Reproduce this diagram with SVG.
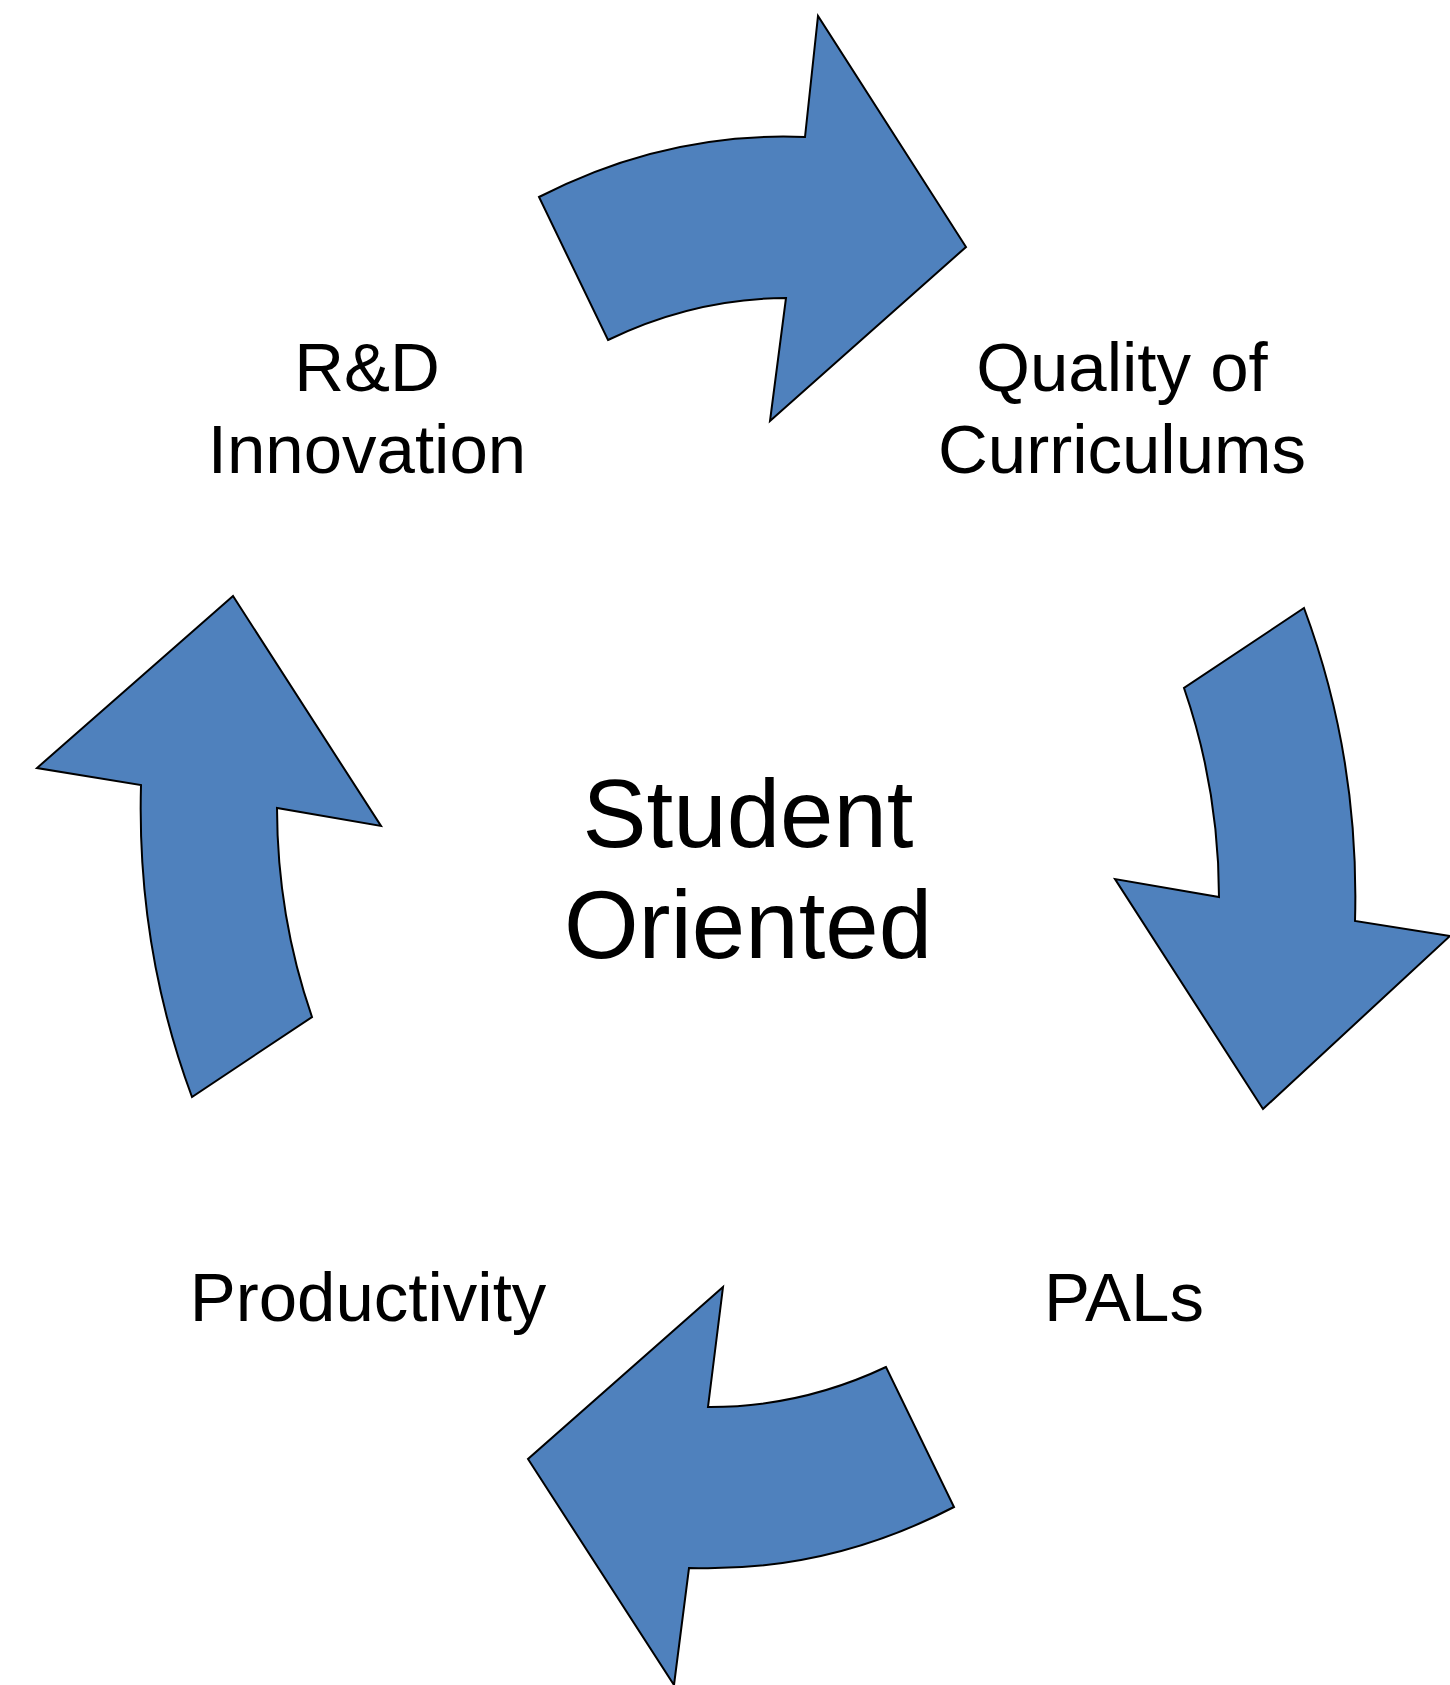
<svg xmlns="http://www.w3.org/2000/svg" width="1450" height="1685" viewBox="0 0 1450 1685">
<style>
.arrow{fill:#4F81BD;stroke:#000;stroke-width:2;stroke-linejoin:miter}
.lbl{font-family:"Liberation Sans",Arial,sans-serif;font-size:69px;fill:#000;text-anchor:middle}
.ctr{font-family:"Liberation Sans",Arial,sans-serif;font-size:96px;fill:#000;text-anchor:middle}
</style>
<rect width="1450" height="1685" fill="#fff"/>
<g id="connectors">
<path id="arrow-top" class="arrow" d="M539,197 A611,720 0 0 1 805,137 L818,16 L966,247 L770,421 L786,298 A473,557 0 0 0 608,340 Z"/>
<path id="arrow-right" class="arrow" d="M1304,608 A611,720 0 0 1 1355,921 L1450,936 L1263,1109 L1115,879 L1219,897 A473,557 0 0 0 1184,688 Z"/>
<path id="arrow-bottom" class="arrow" d="M954,1507 A611,720 0 0 1 689,1568 L674,1685 L528,1459 L723,1287 L708,1407 A473,557 0 0 0 886,1367 Z"/>
<path id="arrow-left" class="arrow" d="M192,1097 A611,720 0 0 1 141,785 L37,768 L233,596 L381,826 L277,808 A473,557 0 0 0 312,1017 Z"/>
</g>
<g id="node-rd"><text class="lbl" x="367" y="391">R&amp;D</text><text class="lbl" x="367" y="473">Innovation</text></g>
<g id="node-quality"><text class="lbl" x="1122" y="391">Quality of</text><text class="lbl" x="1122" y="473">Curriculums</text></g>
<g id="node-pals"><text class="lbl" x="1124" y="1321">PALs</text></g>
<g id="node-productivity"><text class="lbl" x="368" y="1321">Productivity</text></g>
<g id="node-center"><text class="ctr" x="748" y="847">Student</text><text class="ctr" x="748" y="958">Oriented</text></g>
</svg>
